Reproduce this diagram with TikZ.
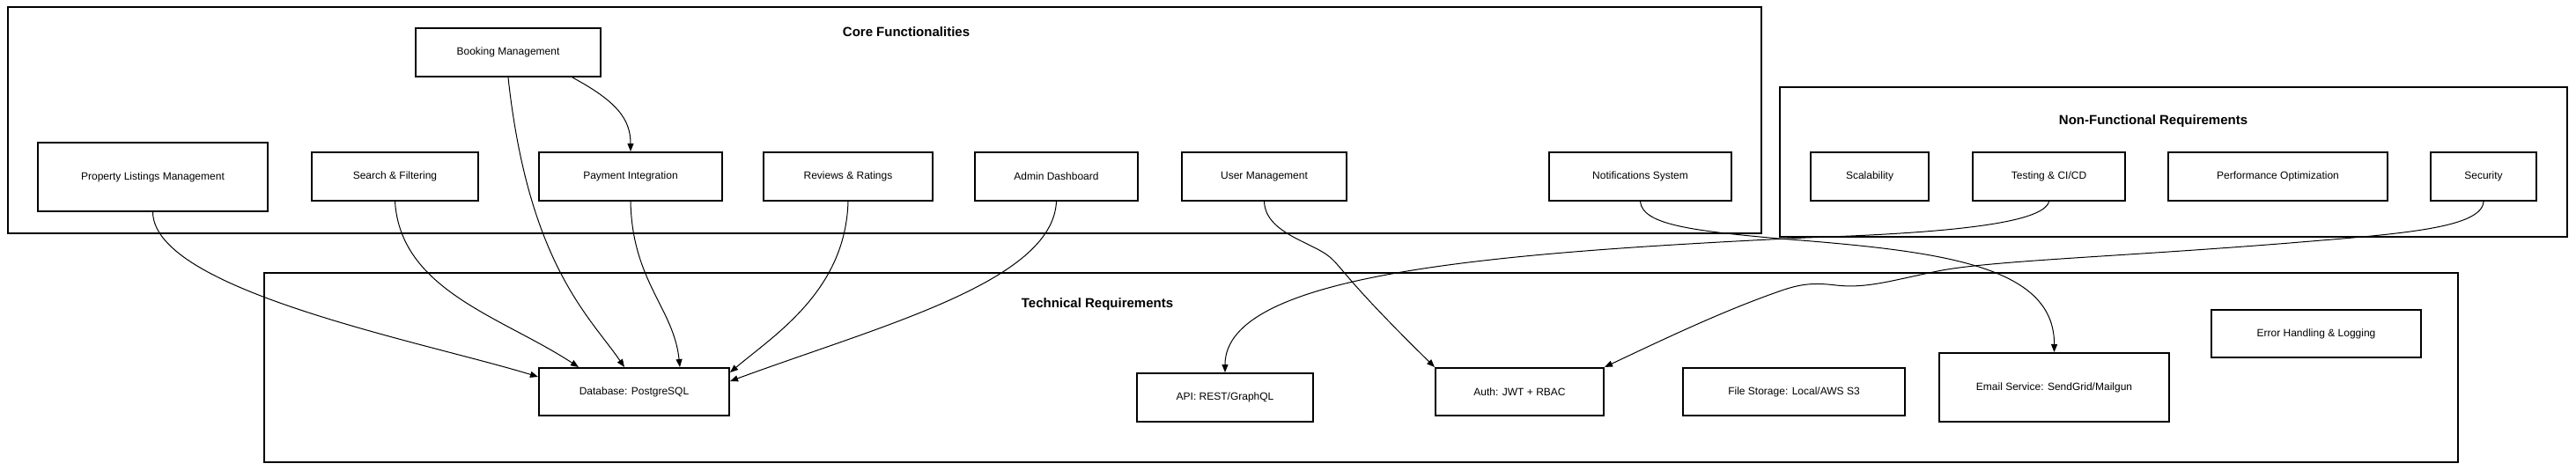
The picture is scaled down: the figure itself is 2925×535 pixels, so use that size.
\documentclass[tikz,border=0pt]{standalone}
\usepackage{fontspec}
\setmainfont{Liberation Sans}
\usetikzlibrary{arrows.meta,calc}
\begin{document}
\begin{tikzpicture}[x=1pt,y=-1pt,
  box/.style={draw,line width=2pt,fill=white,inner sep=0pt,minimum height=55pt,font=\fontsize{12}{14}\selectfont},
  cluster/.style={draw,line width=2pt,inner sep=0pt},
  ttl/.style={font=\bfseries\fontsize{15}{18}\selectfont,inner sep=0pt},
  edge/.style={line width=1pt,-{Triangle[length=9pt,width=7pt]}}]
\useasboundingbox[fill=white] (0,0) rectangle (2925,535);
% clusters
\node[cluster,minimum width=1991pt,minimum height=257pt] (core) at (1004.5,136.5) {};
\node[cluster,minimum width=894pt,minimum height=170pt] (nfr) at (2468,184) {};
\node[cluster,minimum width=2491pt,minimum height=215pt] (tech) at (1545.5,417.5) {};
\node[ttl] (coret) at (1029,36) {Core Functionalities};
\node[ttl] (nfrt) at (2445,138) {Non-Functional Requirements};
\node[ttl] (techt) at (1246,346) {Technical Requirements};
% core nodes
\node[box,minimum width=210pt] (booking) at (577,59.5) {Booking Management};
\node[box,minimum width=261pt,minimum height=78pt] (prop) at (173.5,201) {Property Listings Management};
\node[box,minimum width=189pt] (search) at (448.5,200.5) {Search \& Filtering};
\node[box,minimum width=208pt] (payment) at (716,200.5) {Payment Integration};
\node[box,minimum width=192pt] (reviews) at (963,200.5) {Reviews \& Ratings};
\node[box,minimum width=185pt] (admin) at (1199.5,200.5) {Admin Dashboard};
\node[box,minimum width=187pt] (user) at (1435.5,200.5) {User Management};
\node[box,minimum width=207pt] (notif) at (1862.5,200.5) {Notifications System};
% nfr nodes
\node[box,minimum width=134pt] (scal) at (2123,200.5) {Scalability};
\node[box,minimum width=173pt] (testing) at (2326.5,200.5) {Testing \& CI/CD};
\node[box,minimum width=249pt] (perf) at (2586.5,200.5) {Performance Optimization};
\node[box,minimum width=120pt] (security) at (2820,200.5) {Security};
% tech nodes
\node[box,minimum width=216pt,minimum height=54pt] (db) at (720,445) {Database: PostgreSQL};
\node[box,minimum width=200pt] (api) at (1391,451.5) {API: REST/GraphQL};
\node[box,minimum width=191pt,minimum height=54pt] (auth) at (1725.5,445) {Auth: JWT + RBAC};
\node[box,minimum width=252pt,minimum height=54pt] (file) at (2037,445) {File Storage: Local/AWS S3};
\node[box,minimum width=261pt,minimum height=78pt] (email) at (2332.5,440) {Email Service: SendGrid/Mailgun};
\node[box,minimum width=238pt,minimum height=54pt] (error) at (2630,379) {Error Handling \& Logging};
% edges
\draw[edge] ($(booking.south)+(73,0)$) .. controls (700,115) and (716,135) .. (payment.north);
\draw[edge] (booking.south) .. controls (600,300) and (670,360) .. ($(db.north)+(-11,0)$);
\draw[edge] (prop.south) .. controls (175,330) and (480,388) .. ($(db.west)+(0,-17)$);
\draw[edge] (search.south) .. controls (455,330) and (570,360) .. ($(db.north)+(-63,0)$);
\draw[edge] (payment.south) .. controls (718,320) and (765,350) .. ($(db.north)+(52,0)$);
\draw[edge] (reviews.south) .. controls (960,330) and (880,380) .. ($(db.east)+(0,-22)$);
\draw[edge] (admin.south) .. controls (1195,320) and (1000,370) .. ($(db.east)+(0,-12)$);
\draw[edge] (user.south) .. controls (1437,265) and (1490,275) .. (1510,292) .. controls (1525,305) and (1530,320) .. (auth.north west);
\draw[edge] (notif.south) .. controls (1865,255) and (1920,262) .. (2020,271) .. controls (2200,285) and (2333,300) .. (email.north);
\draw[edge] (testing.south) .. controls (2320,255) and (2200,265) .. (2050,270) .. controls (1700,287) and (1391,310) .. (api.north);
\draw[edge] (security.south) .. controls (2818,260) and (2720,266) .. (2600,276) .. controls (2400,292) and (2260,296) .. (2200,308) .. controls (2150,318) and (2120,328) .. (2085,324) .. controls (2060,321) and (2045,322) .. (2020,331) .. controls (1960,352) and (1900,380) .. (auth.north east);
\end{tikzpicture}
\end{document}
